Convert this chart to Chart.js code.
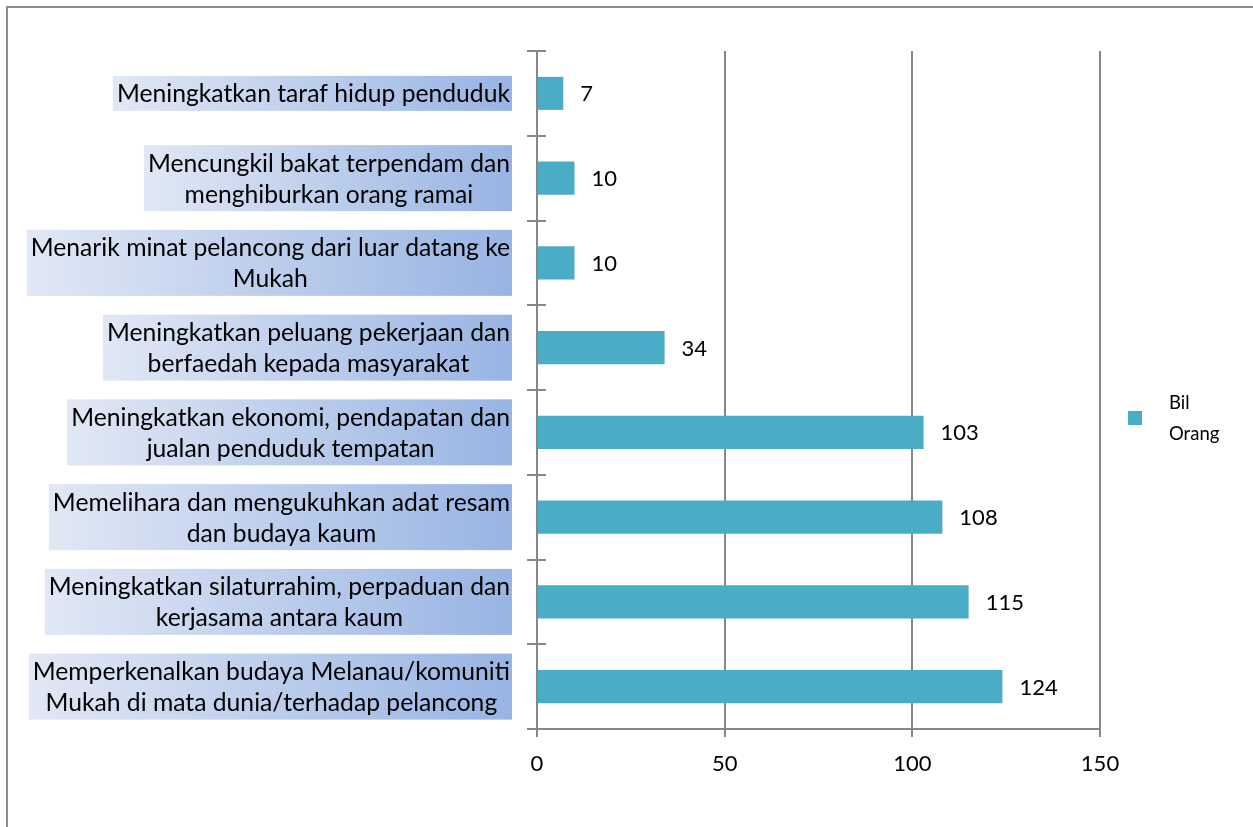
<!DOCTYPE html>
<html><head><meta charset="utf-8">
<script src="https://cdn.jsdelivr.net/npm/chart.js@4/dist/chart.umd.min.js"></script>
<style>html,body{margin:0;padding:0;background:#fff;}#wrap{width:1253px;height:827px;position:relative;}</style>
</head><body><div id="wrap"><canvas id="c" width="1253" height="827"></canvas></div>
<script>
const categories = [
  ["Meningkatkan taraf hidup penduduk"],
  ["Mencungkil bakat terpendam dan", "menghiburkan orang ramai"],
  ["Menarik minat pelancong dari luar datang ke", "Mukah"],
  ["Meningkatkan peluang pekerjaan dan", "berfaedah kepada masyarakat"],
  ["Meningkatkan ekonomi, pendapatan dan", "jualan penduduk tempatan"],
  ["Memelihara dan mengukuhkan adat resam", "dan budaya kaum"],
  ["Meningkatkan silaturrahim, perpaduan dan", "kerjasama antara kaum"],
  ["Memperkenalkan budaya Melanau/komuniti", "Mukah di mata dunia/terhadap pelancong"]
];
const values = [7, 10, 10, 34, 103, 108, 115, 124];
const seriesLabel = ["Bil", "Orang"];
const xMin = 0, xMax = 150, xStep = 50;

const FONT = "Lato";
const GRID = "#878787";
const BAR = "#4bacc6";

const deco = {
  id: "deco",
  beforeDraw(chart) {
    const ctx = chart.ctx;
    ctx.save();
    ctx.fillStyle = "#fff";
    ctx.fillRect(0, 0, chart.width, chart.height);
    ctx.strokeStyle = "#8c8c8c";
    ctx.lineWidth = 2;
    ctx.strokeRect(7, 7, chart.width + 20, chart.height + 20);
    ctx.restore();
  },
  afterDraw(chart) {
    const ctx = chart.ctx;
    const ys = chart.scales.y;
    const ca = chart.chartArea;
    ctx.save();
    ctx.strokeStyle = GRID; ctx.lineWidth = 2;
    for (let k = 0; k <= categories.length; k++) {
      const y = Math.round(ys.getPixelForValue(k - 0.5));
      ctx.beginPath(); ctx.moveTo(ca.left, y); ctx.lineTo(ca.left + 9, y); ctx.stroke();
    }
    ctx.font = "24.7px " + FONT;
    ctx.textBaseline = "middle";
    ctx.textAlign = "center";
    const lineH = 31;
    const right = 512;
    categories.forEach((lines, i) => {
      const yc = ys.getPixelForValue(i);
      let w = 0;
      lines.forEach(l => { w = Math.max(w, ctx.measureText(l).width); });
      const left = right - w - 6;
      const h = lines.length * lineH + 4;
      const g = ctx.createLinearGradient(left, 0, right, 0);
      g.addColorStop(0, "#e1e8f5");
      g.addColorStop(1, "#98b4e3");
      ctx.fillStyle = g;
      ctx.fillRect(left, yc - h / 2, right - left, h);
      ctx.fillStyle = "#000";
      const cx = (left + right) / 2 + 1;
      lines.forEach((l, j) => {
        ctx.fillText(l, cx, yc + (j - (lines.length - 1) / 2) * lineH + 1);
      });
    });
    const meta = chart.getDatasetMeta(0);
    ctx.font = "22px " + FONT;
    ctx.textAlign = "left";
    meta.data.forEach((bar, i) => {
      ctx.fillText(String(values[i]), bar.x + 17, bar.y + 1);
    });
    ctx.fillStyle = BAR;
    ctx.fillRect(1128, 411, 14, 14);
    ctx.fillStyle = "#000";
    ctx.font = "18.5px " + FONT;
    ctx.fillText(seriesLabel[0], 1169, 403);
    ctx.fillText(seriesLabel[1], 1169, 434);
    ctx.restore();
  }
};

new Chart(document.getElementById("c"), {
  type: "bar",
  data: {
    labels: categories,
    datasets: [{
      label: seriesLabel.join(" "),
      data: values,
      backgroundColor: BAR,
      borderWidth: 0,
      barPercentage: 0.39,
      categoryPercentage: 1
    }]
  },
  options: {
    indexAxis: "y",
    responsive: false,
    animation: false,
    devicePixelRatio: 1,
    layout: { padding: { top: 51, right: 153, left: 0, bottom: 0 } },
    plugins: { legend: { display: false }, tooltip: { enabled: false } },
    scales: {
      x: {
        min: xMin, max: xMax,
        ticks: { stepSize: xStep, color: "#000", font: { family: FONT, size: 22 }, padding: 14 },
        grid: { color: GRID, lineWidth: 2, tickLength: 8 },
        border: { color: GRID, width: 2 },
        afterFit(s) { s.height = 98; }
      },
      y: {
        ticks: { display: false },
        grid: { drawOnChartArea: false, color: GRID, lineWidth: 2, tickLength: 10, offset: true },
        border: { color: GRID, width: 2 },
        afterFit(s) { s.width = 537; }
      }
    }
  },
  plugins: [deco]
});
</script>
</body></html>
